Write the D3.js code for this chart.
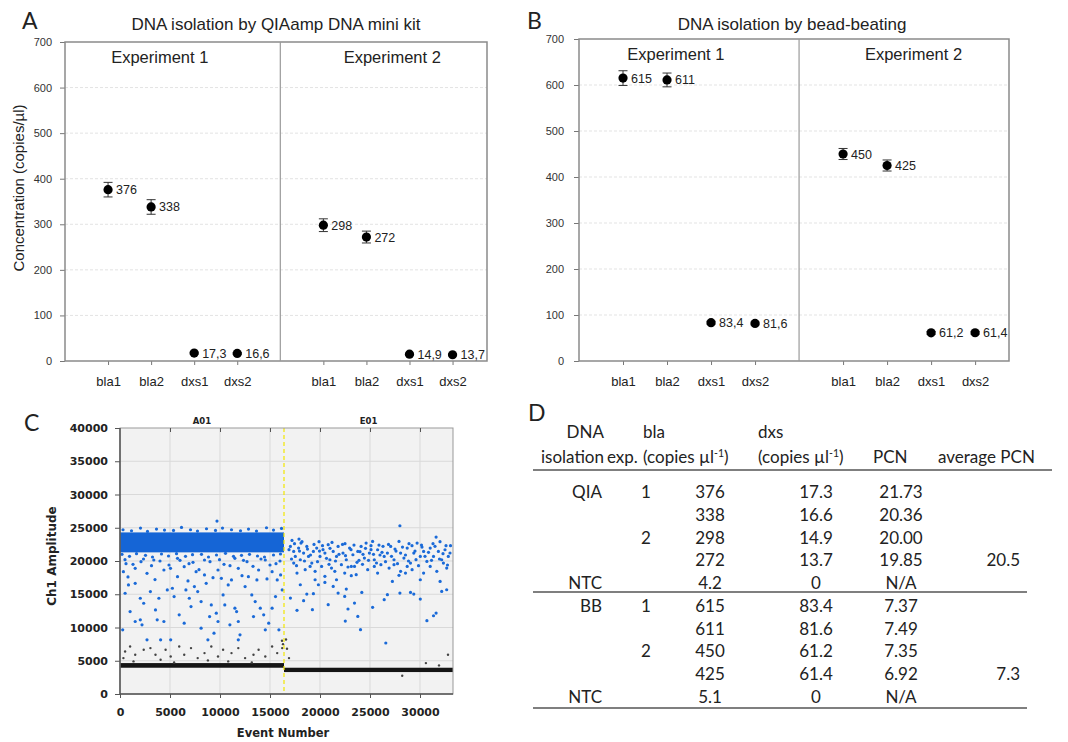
<!DOCTYPE html>
<html>
<head>
<meta charset="utf-8">
<script src="https://cdn.jsdelivr.net/npm/d3@7"></script>
<style>
  body { margin: 0; background: #fff; }
  svg { display: block; }
</style>
</head>
<body>
<svg id="fig" width="1068" height="742"></svg>
<script>
// ---- panels A / B : concentrations (copies/ul) ----
var targets = ['bla1', 'bla2', 'dxs1', 'dxs2'];
var concTicks = [0, 100, 200, 300, 400, 500, 600, 700];

var qiaExp1 = [376, 338, 17.3, 16.6];
var qiaExp2 = [298, 272, 14.9, 13.7];
var qiaErr1 = [16, 16, 2, 2];
var qiaErr2 = [14, 13, 2, 2];

var bbExp1 = [615, 611, 83.4, 81.6];
var bbExp2 = [450, 425, 61.2, 61.4];
var bbErr1 = [16, 15, 3, 3];
var bbErr2 = [12, 12, 3, 3];

// ---- panel C : droplet amplitudes (event number, amplitude) ----
var eventTicks = [0, 5000, 10000, 15000, 20000, 25000, 30000];
var ampTicks = [0, 5000, 10000, 15000, 20000, 25000, 30000, 35000, 40000];
var wellSplit = 16400;
// dense clusters: [event from, event to, amplitude low, amplitude high]
var posBands = [[0, 16400, 21300, 24300]];
var negBands = [[0, 16400, 3950, 4650], [16400, 33300, 3300, 3950]];

var a01Positive = [[340,18400],[845,16400],[1520,16650],[510,15150],[1010,12400],[270,9650],[2030,14400],[2370,13650],
  [3040,15400],[3890,14400],[3550,12650],[2030,11150],[1520,10900],[2200,10400],[2700,8150],[4060,8150],[4390,10900],
  [4730,15650],[5240,15900],[5410,14650],[5750,17650],[5920,11900],[6420,10650],[6590,15650],[6930,14400],[7440,16150],
  [7770,15400],[8110,13900],[8450,17900],[8620,16650],[8960,11650],[9130,13400],[9400,9150],[9630,12150],[9800,10900],
  [10310,14900],[10480,13400],[10820,16400],[11150,17150],[11490,12900],[11660,12400],[11830,10900],[12000,8900],
  [12510,16150],[12840,17650],[13180,14900],[13520,13900],[13690,17150],[14030,12900],[14370,11900],[14530,9650],
  [14870,10650],[15210,12900],[15550,14650],[15720,17150],[16060,17900],[16220,15650],[15890,9650],[3720,11150],
  [5070,8150],[7100,13150],[8110,9900],[8790,8150],[10990,10400],[11830,8150],[13350,11650],[10140,17400],[7610,18400],
  [4390,18650],[2700,18150],[1520,18900],[9800,18650],[11830,18900],[13860,18650],[15210,18400],[6420,19150],[3380,20150],
  [5750,20400],[8450,20150],[11490,20400],[14530,20150],[9700,26000],[600,19600],[2100,19900],[4900,19400],[7300,19800],
  [10400,19500],[12700,19900],[15600,19600],
  [500,20200],[1300,19500],[2350,20300],[3150,19300],[4000,20000],[5050,18900],[6000,20100],[6900,19600],[7900,18700],
  [9000,19900],[9950,20200],[11000,19300],[12350,20100],[13300,19200],[14100,20300],[15000,19400],[16000,20000],
  [800,17600],[3500,17200],[6800,17000],[9300,17500],[12200,17800],[14700,17300],
  [300,24700],[1150,24550],[2050,24950],[2750,24450],[3650,24800],[4450,24650],[5350,24600],[6150,25050],[7050,24700],
  [7750,24500],[8650,24850],[9550,24600],[10250,24950],[11150,24700],[12050,24550],[12850,24800],[13650,24500],
  [14650,25000],[15350,24650],[16150,24900],
  [200,21000],[950,20700],[1650,21100],[2550,20850],[3250,20600],[4150,21050],[4850,20750],[5650,21100],[6550,20700],
  [7250,20950],[8150,21000],[8850,20600],[9650,20900],[10550,21150],[11350,20700],[12150,20850],[12950,21000],
  [13750,20750],[14450,20600],[15350,20900],[16050,21050]];
var a01Negative = [[510,6400],[1010,7150],[1520,5900],[2370,6650],[3040,6900],[3550,5900],[4060,5150],[4560,6650],
  [5070,5650],[5920,7150],[6420,5900],[7100,6900],[7770,5400],[8450,6150],[9130,7150],[9800,5650],[10310,6650],
  [11150,6150],[11830,6900],[12510,5400],[13350,5900],[13860,6650],[14530,5650],[15210,7150],[15720,6150],[16220,6900],
  [1350,4900],[5410,4750],[10820,4900],[13180,4750],[340,5400],[8790,5050],[16200,8000],[16300,7500]];
var e01Positive = [[17040,22190],[17370,21440],[17530,20690],[17860,21940],[18030,20190],[18360,21190],[18680,22190],
  [18850,20690],[19180,19690],[19340,21440],[19670,21940],[20000,20690],[20160,19190],[20490,21190],[20820,22450],
  [20990,20190],[21320,21440],[21650,20690],[21810,22190],[22140,19440],[22300,21190],[22630,20190],[22960,21940],
  [23290,20940],[23450,19190],[23780,21440],[24110,22190],[24440,20440],[24610,22700],[24940,21190],[25260,22950],
  [25430,20190],[25760,21690],[26090,19440],[26420,20690],[26740,21190],[27070,22190],[27400,20190],[27900,22950],
  [28060,21190],[28390,20440],[28720,21940],[29050,19690],[29380,21190],[29710,22700],[30030,20690],[30360,21440],
  [30690,19940],[31020,21940],[31350,20690],[31610,23600],[31840,21440],[32170,20190],[32500,21690],[32830,20690],
  [17700,18190],[18520,18690],[19510,18440],[20490,17690],[21480,18440],[22470,18190],[23620,17940],[24770,18690],
  [25760,18190],[26910,18940],[28060,18440],[29210,18690],[30360,18190],[31680,18440],[32670,18940],[17370,19690],
  [19010,19190],[21150,18940],[23130,19190],[25430,19190],[27400,19440],[28720,19190],[31020,19190],[32340,19690],
  [27990,25300],[17200,23100],[18100,22700],[19900,22900],[21000,21900],[22500,22600],[23900,20100],[25100,21700],
  [26300,22200],[27600,21500],[28900,22600],[30200,22100],[31300,22600],[32600,22300],[33000,21200],[17900,23300],
  [20300,21700],[24300,21000],[26000,20900],[29600,20200],[32000,22900],
  [16900,21700],[17150,20300],[17450,22600],[17650,19300],[17950,21500],[18200,22900],[18450,20000],[18750,21800],
  [19050,20900],[19400,22500],[19750,19900],[19950,21500],[20250,22300],[20650,20400],[20900,19500],[21200,22800],
  [21550,20000],[21900,21000],[22250,22500],[22550,20800],[22800,19100],[23100,21700],[23400,22400],[23700,19800],
  [24000,21400],[24250,19500],[24550,21900],[24850,20100],[25100,22300],[25350,21000],[25650,19700],[25900,22400],
  [26200,21300],[26550,19900],[26850,22500],[27150,20700],[27500,21800],[27750,19600],[28250,22100],[28550,20900],
  [28850,20000],[29200,22300],[29500,21500],[29850,19300],[30150,22400],[30500,20700],[30850,21300],[31150,20100],
  [31500,22200],[31950,20300],[32300,21100],[32750,19400],[33050,22300],
  [17040,14430],[17700,12580],[18360,14030],[18030,16430],[18680,15030],[19340,15080],[19240,12680],[19840,16430],
  [20490,16780],[21320,16180],[21650,17180],[22470,14680],[22630,15780],[22800,12780],[22530,10970],[23130,17790],
  [23780,11670],[24050,9670],[24180,15280],[23450,13680],[25260,13030],[26420,14180],[26740,14930],[26580,7670],
  [27240,16930],[27900,17840],[27990,15180],[28550,18190],[29050,15280],[29380,15030],[30030,17180],[30030,14280],
  [30690,11020],[31350,11770],[31610,12170],[32010,16930],[32170,15430],[32670,15680],[21810,15180],[20820,13430],
  [19510,17180]];
var e01Negative = [[28220,2750],[30590,4650],[32800,5900],[16900,5400],[16700,6800],[16600,8200],[31900,4300]];

// ---- panel D : table ----
var tMethod = ['QIA', '', '', '', 'NTC', 'BB', '', '', '', 'NTC'];
var tExp = ['1', '', '2', '', '', '1', '', '2', '', ''];
var tBla = ['376', '338', '298', '272', '4.2', '615', '611', '450', '425', '5.1'];
var tDxs = ['17.3', '16.6', '14.9', '13.7', '0', '83.4', '81.6', '61.2', '61.4', '0'];
var tPcn = ['21.73', '20.36', '20.00', '19.85', 'N/A', '7.37', '7.49', '7.35', '6.92', 'N/A'];
var tAvg = ['', '', '', '20.5', '', '', '', '', '7.3', ''];

var svg = d3.select('#fig');
var ARIAL = '"Liberation Sans", Arial, sans-serif';
var VERD = '"DejaVu Sans", Verdana, sans-serif';
var CALI = 'Lato, "Open Sans", sans-serif';

function comma(v) { return String(v).replace('.', ','); }

function panelLetter(txt, x, y) {
  svg.append('text').attr('x', x).attr('y', y).text(txt)
    .attr('font-family', CALI).attr('font-size', 23).attr('fill', '#222');
}

function dotPanel(p) {
  var g = svg.append('g');
  var x = d3.scaleLinear().domain([0, p.span]).range([p.left, p.right]);
  var y = d3.scaleLinear().domain([0, 700]).range([p.bottom, p.top]);

  // faint dotted grid
  g.append('g').selectAll('line')
    .data(concTicks.filter(function (t) { return t > 0 && t < 700; }))
    .enter().append('line')
    .attr('x1', p.left).attr('x2', p.right)
    .attr('y1', function (d) { return y(d); }).attr('y2', function (d) { return y(d); })
    .attr('stroke', '#e3e3e3').attr('stroke-dasharray', '3,2');

  var yAxis = g.append('g').attr('transform', 'translate(' + p.left + ',0)')
    .call(d3.axisLeft(y).tickValues(concTicks).tickSize(5).tickPadding(p.pad));
  yAxis.select('.domain').remove();
  yAxis.selectAll('line').attr('stroke', '#777');
  yAxis.selectAll('text').attr('font-family', ARIAL).attr('font-size', 11).attr('fill', '#333');

  var pts = [];
  [p.exp1, p.exp2].forEach(function (vals, e) {
    vals.forEach(function (v, i) {
      pts.push({ pos: e * 5 + i + 1, v: v, err: p.errs[e][i] });
    });
  });

  var xAxis = g.append('g').attr('transform', 'translate(0,' + p.bottom + ')')
    .call(d3.axisBottom(x).tickValues(pts.map(function (d) { return d.pos; }))
      .tickFormat(function (d) { return targets[(d - 1) % 5]; })
      .tickSize(4).tickPadding(12));
  xAxis.select('.domain').remove();
  xAxis.selectAll('line').attr('stroke', '#777');
  xAxis.selectAll('text').attr('font-family', ARIAL).attr('font-size', 13).attr('fill', '#222');

  // frame and experiment separator
  g.append('rect').attr('x', p.left).attr('y', p.top)
    .attr('width', p.right - p.left).attr('height', p.bottom - p.top)
    .attr('fill', 'none').attr('stroke', '#8a8a8a').attr('stroke-width', 1.5);
  g.append('line').attr('x1', x(5)).attr('x2', x(5)).attr('y1', p.top).attr('y2', p.bottom)
    .attr('stroke', '#9a9a9a').attr('stroke-width', 1.2);

  g.selectAll('text.exp').data(['Experiment 1', 'Experiment 2']).enter().append('text')
    .attr('x', function (d, i) { return x(i === 0 ? 2.2 : 7.6); })
    .attr('y', p.top + 21).attr('text-anchor', 'middle')
    .attr('font-family', ARIAL).attr('font-size', 16.5).attr('fill', '#222')
    .text(function (d) { return d; });

  // error bars
  var eb = g.append('g').attr('stroke', '#333').attr('stroke-width', 1);
  eb.selectAll('line.v').data(pts).enter().append('line')
    .attr('x1', function (d) { return x(d.pos); }).attr('x2', function (d) { return x(d.pos); })
    .attr('y1', function (d) { return y(d.v - d.err); }).attr('y2', function (d) { return y(d.v + d.err); });
  [-1, 1].forEach(function (s) {
    eb.selectAll('line.c' + s).data(pts).enter().append('line')
      .attr('x1', function (d) { return x(d.pos) - 4.5; }).attr('x2', function (d) { return x(d.pos) + 4.5; })
      .attr('y1', function (d) { return y(d.v + s * d.err); }).attr('y2', function (d) { return y(d.v + s * d.err); });
  });

  g.selectAll('circle').data(pts).enter().append('circle')
    .attr('cx', function (d) { return x(d.pos); }).attr('cy', function (d) { return y(d.v); })
    .attr('r', 4.6).attr('fill', '#000');

  g.selectAll('text.val').data(pts).enter().append('text')
    .attr('x', function (d) { return x(d.pos) + 8; })
    .attr('y', function (d) { return y(d.v) + 4.5; })
    .attr('font-family', ARIAL).attr('font-size', 12.5).attr('fill', '#222')
    .text(function (d) { return comma(d.v); });

  svg.append('text').attr('x', p.titleX).attr('y', 30).attr('text-anchor', 'middle')
    .attr('font-family', ARIAL).attr('font-size', 17).attr('fill', '#222').text(p.title);
}

dotPanel({ left: 65, right: 487, top: 42, bottom: 361, span: 9.8, pad: 8,
  exp1: qiaExp1, exp2: qiaExp2, errs: [qiaErr1, qiaErr2],
  title: 'DNA isolation by QIAamp DNA mini kit', titleX: 276 });
dotPanel({ left: 579, right: 1009, top: 39, bottom: 361, span: 9.77, pad: 10,
  exp1: bbExp1, exp2: bbExp2, errs: [bbErr1, bbErr2],
  title: 'DNA isolation by bead-beating', titleX: 792 });

svg.append('text').attr('transform', 'translate(24,188) rotate(-90)').attr('text-anchor', 'middle')
  .attr('font-family', ARIAL).attr('font-size', 15).attr('fill', '#222')
  .text('Concentration (copies/µl)');

panelLetter('A', 22, 29);
panelLetter('B', 527, 29);
panelLetter('C', 24, 431);
panelLetter('D', 528, 421);

// ---- panel C ----
(function () {
  var L = 120, R = 453, T = 428, B = 694;
  var x = d3.scaleLinear().domain([0, 33300]).range([L, R]);
  var y = d3.scaleLinear().domain([0, 40000]).range([B, T]);
  var g = svg.append('g');

  g.append('rect').attr('x', L).attr('y', T).attr('width', R - L).attr('height', B - T).attr('fill', '#f2f2f2');
  g.append('g').selectAll('line').data(eventTicks.slice(1)).enter().append('line')
    .attr('x1', function (d) { return x(d); }).attr('x2', function (d) { return x(d); })
    .attr('y1', T).attr('y2', B).attr('stroke', '#d9d9d9');
  g.append('g').selectAll('line').data(ampTicks.slice(1, -1)).enter().append('line')
    .attr('x1', L).attr('x2', R)
    .attr('y1', function (d) { return y(d); }).attr('y2', function (d) { return y(d); })
    .attr('stroke', '#d9d9d9');

  // dense clusters
  g.selectAll('rect.neg').data(negBands).enter().append('rect')
    .attr('x', function (d) { return x(d[0]); }).attr('width', function (d) { return x(d[1]) - x(d[0]); })
    .attr('y', function (d) { return y(d[3]); }).attr('height', function (d) { return y(d[2]) - y(d[3]); })
    .attr('fill', '#151515');
  g.selectAll('rect.pos').data(posBands).enter().append('rect')
    .attr('x', function (d) { return x(d[0]); }).attr('width', function (d) { return x(d[1]) - x(d[0]); })
    .attr('y', function (d) { return y(d[3]); }).attr('height', function (d) { return y(d[2]) - y(d[3]); })
    .attr('fill', '#1565d6');

  function dots(data, color, r) {
    g.append('g').selectAll('circle').data(data).enter().append('circle')
      .attr('cx', function (d) { return x(d[0]); }).attr('cy', function (d) { return y(d[1]); })
      .attr('r', r).attr('fill', color);
  }
  dots(a01Negative, '#444', 1.2);
  dots(e01Negative, '#444', 1.2);
  dots(a01Positive, '#1a6ad8', 1.6);
  dots(e01Positive, '#1a6ad8', 1.6);

  g.append('line').attr('x1', x(wellSplit)).attr('x2', x(wellSplit)).attr('y1', T).attr('y2', B)
    .attr('stroke', '#f2e600').attr('stroke-width', 1.2).attr('stroke-dasharray', '4,3');

  g.append('rect').attr('x', L).attr('y', T).attr('width', R - L).attr('height', B - T)
    .attr('fill', 'none').attr('stroke', '#999').attr('stroke-width', 1);
  g.append('line').attr('x1', L).attr('x2', L).attr('y1', T).attr('y2', B).attr('stroke', '#555').attr('stroke-width', 1.5);
  g.append('line').attr('x1', L).attr('x2', R).attr('y1', B).attr('y2', B).attr('stroke', '#555').attr('stroke-width', 1.5);

  var plain = d3.format('d');
  var ya = g.append('g').attr('transform', 'translate(' + L + ',0)')
    .call(d3.axisLeft(y).tickValues(ampTicks).tickFormat(plain).tickSize(5).tickPadding(7));
  var xa = g.append('g').attr('transform', 'translate(0,' + B + ')')
    .call(d3.axisBottom(x).tickValues(eventTicks).tickFormat(plain).tickSize(4).tickPadding(10));
  var xt = g.append('g').attr('transform', 'translate(0,' + T + ')')
    .call(d3.axisBottom(x).tickValues(eventTicks.slice(1)).tickSize(4).tickFormat(''));
  [ya, xa, xt].forEach(function (a) {
    a.select('.domain').remove();
    a.selectAll('line').attr('stroke', '#555');
    a.selectAll('text').attr('font-family', VERD).attr('font-weight', 'bold')
      .attr('font-size', 11).attr('fill', '#222');
  });

  g.selectAll('text.well').data(['A01', 'E01']).enter().append('text')
    .attr('x', function (d, i) { return i === 0 ? x(wellSplit / 2) : x((wellSplit + 33300) / 2); })
    .attr('y', T - 4).attr('text-anchor', 'middle')
    .attr('font-family', VERD).attr('font-weight', 'bold').attr('font-size', 8.5).attr('fill', '#222')
    .text(function (d) { return d; });

  svg.append('text').attr('transform', 'translate(56,556) rotate(-90)').attr('text-anchor', 'middle')
    .attr('font-family', VERD).attr('font-weight', 'bold').attr('font-size', 12).attr('fill', '#222')
    .text('Ch1 Amplitude');
  svg.append('text').attr('x', 283).attr('y', 737).attr('text-anchor', 'middle')
    .attr('font-family', VERD).attr('font-weight', 'bold').attr('font-size', 11.5).attr('fill', '#222')
    .text('Event Number');
})();

// ---- panel D ----
(function () {
  var g = svg.append('g').attr('font-family', CALI).attr('font-size', 17).attr('fill', '#222');
  var rowY = d3.scaleLinear().domain([0, 9]).range([492, 697]);

  function hdr(txt, x, y, anchor) {
    return g.append('text').attr('x', x).attr('y', y).attr('text-anchor', anchor || 'start').text(txt);
  }
  function copies(x, y) {
    var t = hdr('(copies µl', x, y);
    t.append('tspan').attr('dy', -6).attr('font-size', 10.5).text('-1');
    t.append('tspan').attr('dy', 6).text(')');
  }
  hdr('DNA', 604, 438, 'end');
  hdr('bla', 643, 438);
  hdr('dxs', 758, 438);
  hdr('isolation', 604, 463, 'end');
  hdr('exp.', 607, 463);
  copies(643, 463);
  copies(758, 463);
  hdr('PCN', 873, 463);
  hdr('average PCN', 938, 463);

  var cols = [
    { v: tMethod, x: 602, a: 'end' },
    { v: tExp, x: 646, a: 'middle' },
    { v: tBla, x: 710, a: 'middle' },
    { v: tDxs, x: 816, a: 'middle' },
    { v: tPcn, x: 901, a: 'middle' },
    { v: tAvg, x: 1020, a: 'end' }
  ];
  cols.forEach(function (c) {
    g.append('g').selectAll('text').data(c.v).enter().append('text')
      .attr('x', c.x).attr('y', function (d, i) { return rowY(i) + 6; })
      .attr('text-anchor', c.a).text(function (d) { return d; });
  });

  var rules = [[533, 1052, 470], [533, 1027, 592], [533, 1027, 708]];
  g.selectAll('line').data(rules).enter().append('line')
    .attr('x1', function (d) { return d[0]; }).attr('x2', function (d) { return d[1]; })
    .attr('y1', function (d) { return d[2]; }).attr('y2', function (d) { return d[2]; })
    .attr('stroke', '#555').attr('stroke-width', 1.5);
})();
</script>
</body>
</html>
